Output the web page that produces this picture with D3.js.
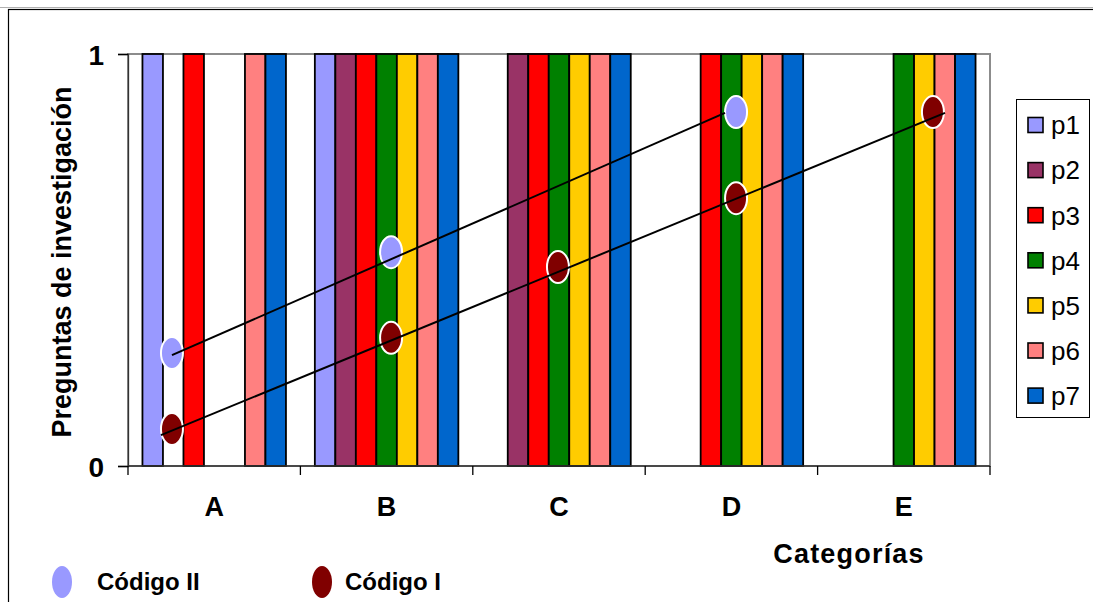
<!DOCTYPE html>
<html>
<head>
<meta charset="utf-8">
<script src="https://cdn.jsdelivr.net/npm/d3@7"></script>
<style>
  body { margin: 0; background: #fff; }
  svg { display: block; font-family: "Liberation Sans", Arial, sans-serif; }
</style>
</head>
<body>
<svg id="chart" width="1093" height="602"></svg>
<script>
// Categories and research questions (p1..p7): 1 = the question covers the category
const categories = ["A", "B", "C", "D", "E"];
const seriesNames = ["p1", "p2", "p3", "p4", "p5", "p6", "p7"];
const p1 = [1, 1, 0, 0, 0];
const p2 = [0, 1, 1, 0, 0];
const p3 = [1, 1, 1, 1, 0];
const p4 = [0, 1, 1, 1, 1];
const p5 = [0, 1, 1, 1, 1];
const p6 = [1, 1, 1, 1, 1];
const p7 = [1, 1, 1, 1, 1];
const seriesValues = [p1, p2, p3, p4, p5, p6, p7];

// Code points (x in category units along the axis, y on the 0..1 scale)
const codigoIIx = [0.255, 1.526, 3.527];
const codigoIIy = [0.274, 0.519, 0.859];
const codigoIx = [0.255, 1.526, 2.494, 3.527, 4.669];
const codigoIy = [0.090, 0.311, 0.483, 0.650, 0.859];

// Trend lines through each code series (start and end points)
const trendIIx = [0.255, 3.463];
const trendIIy = [0.269, 0.857];
const trendIx = [0.191, 4.739];
const trendIy = [0.075, 0.857];

const yTicks = [0, 1];
const codeLegend = ["Código II", "Código I"];

const palette = ["#9999FF", "#993366", "#FF0000", "#008000", "#FFCC00", "#FF8080", "#0066CC"];
const codeColors = ["#9999FF", "#800000"];

const svg = d3.select("#chart");
const W = 1093, H = 602;

// outer frame
svg.append("line").attr("x1", 0).attr("x2", W).attr("y1", 7.5).attr("y2", 7.5)
  .attr("stroke", "#b0b0b0").attr("stroke-width", 1);
svg.append("rect").attr("x", 8.5).attr("y", 9.5).attr("width", W + 10).attr("height", H + 10)
  .attr("fill", "none").attr("stroke", "#000").attr("stroke-width", 1.2);

const plot = { left: 128, right: 990, top: 54, bottom: 466 };

const x0 = d3.scaleBand().domain(categories).range([plot.left, plot.right]).padding(0);
const x1 = d3.scaleBand().domain(seriesNames).range([0, x0.bandwidth()])
  .paddingInner(0).paddingOuter(0.705);
const xLin = d3.scaleLinear().domain([0, categories.length]).range([plot.left, plot.right]);
const y = d3.scaleLinear().domain([0, 1]).range([plot.bottom, plot.top]);

// plot area border
svg.append("rect").attr("x", plot.left).attr("y", plot.top)
  .attr("width", plot.right - plot.left).attr("height", plot.bottom - plot.top)
  .attr("fill", "none").attr("stroke", "#8c8c8c").attr("stroke-width", 2);

// bars
const barData = [];
categories.forEach((c, ci) => {
  seriesNames.forEach((s, si) => {
    const v = seriesValues[si][ci];
    if (v > 0) barData.push({ cat: c, s, si, v });
  });
});
svg.append("g").selectAll("rect").data(barData).join("rect")
  .attr("x", d => x0(d.cat) + x1(d.s))
  .attr("y", d => y(d.v))
  .attr("width", x1.bandwidth())
  .attr("height", d => y(0) - y(d.v))
  .attr("fill", d => palette[d.si])
  .attr("stroke", "#000").attr("stroke-width", 1.8);

// y axis
const yAxis = svg.append("g").attr("transform", `translate(${plot.left},0)`)
  .call(d3.axisLeft(y).tickValues(yTicks).tickFormat(d3.format("d")).tickSize(10).tickPadding(14));
yAxis.select(".domain").attr("stroke", "#333").attr("stroke-width", 1.3);
yAxis.selectAll(".tick line").attr("stroke", "#000").attr("stroke-width", 1.3);
yAxis.selectAll(".tick text").attr("font-size", 28).attr("font-weight", "bold")
  .attr("font-family", "Liberation Sans, Arial, sans-serif").attr("fill", "#000").attr("dy", "0.36em");

// x axis: ticks at category boundaries, labels centered below each category
const xAxis = svg.append("g").attr("transform", `translate(0,${plot.bottom})`);
xAxis.append("line").attr("x1", plot.left).attr("x2", plot.right)
  .attr("stroke", "#333").attr("stroke-width", 1.3);
const bounds = categories.map(c => x0(c)).concat([plot.right]);
xAxis.selectAll("line.tk").data(bounds).join("line").attr("class", "tk")
  .attr("x1", d => d).attr("x2", d => d).attr("y1", 0).attr("y2", 9)
  .attr("stroke", "#000").attr("stroke-width", 1.3);
xAxis.selectAll("text").data(categories).join("text")
  .attr("x", d => x0(d) + x0.bandwidth() / 2)
  .attr("y", 50)
  .attr("text-anchor", "middle")
  .attr("font-size", 27).attr("font-weight", "bold").text(d => d);

// axis titles
svg.append("text").attr("transform", "translate(71,262) rotate(-90)")
  .attr("text-anchor", "middle").attr("font-size", 27).attr("font-weight", "bold")
  .text("Preguntas de investigación");
svg.append("text").attr("x", 849).attr("y", 563).attr("text-anchor", "middle")
  .attr("font-size", 27).attr("font-weight", "bold").attr("letter-spacing", 1.2)
  .text("Categorías");

// code markers
function drawPoints(xs, ys, color) {
  svg.append("g").selectAll("ellipse").data(xs.map((v, i) => ({ x: v, y: ys[i] }))).join("ellipse")
    .attr("cx", d => xLin(d.x)).attr("cy", d => y(d.y))
    .attr("rx", 11).attr("ry", 16)
    .attr("fill", color).attr("stroke", "#fff").attr("stroke-width", 2);
}
drawPoints(codigoIIx, codigoIIy, codeColors[0]);
drawPoints(codigoIx, codigoIy, codeColors[1]);

// trend lines
const line = d3.line().x(d => xLin(d.x)).y(d => y(d.y));
[[trendIIx, trendIIy], [trendIx, trendIy]].forEach(([xs, ys]) => {
  svg.append("path").datum(xs.map((v, i) => ({ x: v, y: ys[i] })))
    .attr("d", line).attr("fill", "none").attr("stroke", "#000").attr("stroke-width", 2);
});

// series legend
const leg = svg.append("g");
leg.append("rect").attr("x", 1016.5).attr("y", 99.5).attr("width", 73).attr("height", 318)
  .attr("fill", "#fff").attr("stroke", "#000").attr("stroke-width", 1);
const legItems = leg.selectAll("g.item").data(seriesNames).join("g").attr("class", "item")
  .attr("transform", (d, i) => `translate(0,${125 + i * 45.1})`);
legItems.append("rect").attr("x", 1028).attr("y", -7.5).attr("width", 15).attr("height", 15)
  .attr("fill", (d, i) => palette[i]).attr("stroke", "#000").attr("stroke-width", 1.6);
legItems.append("text").attr("x", 1051).attr("y", 0).attr("dy", "0.36em")
  .attr("font-size", 26).text(d => d);

// code legend
const codeLeg = svg.append("g").selectAll("g").data(codeLegend).join("g")
  .attr("transform", (d, i) => `translate(${i === 0 ? 62 : 322},582)`);
codeLeg.append("ellipse").attr("rx", 10).attr("ry", 16).attr("fill", (d, i) => codeColors[i]);
codeLeg.append("text").attr("x", (d, i) => i === 0 ? 35 : 23).attr("y", 8)
  .attr("font-size", 24).attr("font-weight", "bold").text(d => d);
</script>
</body>
</html>
